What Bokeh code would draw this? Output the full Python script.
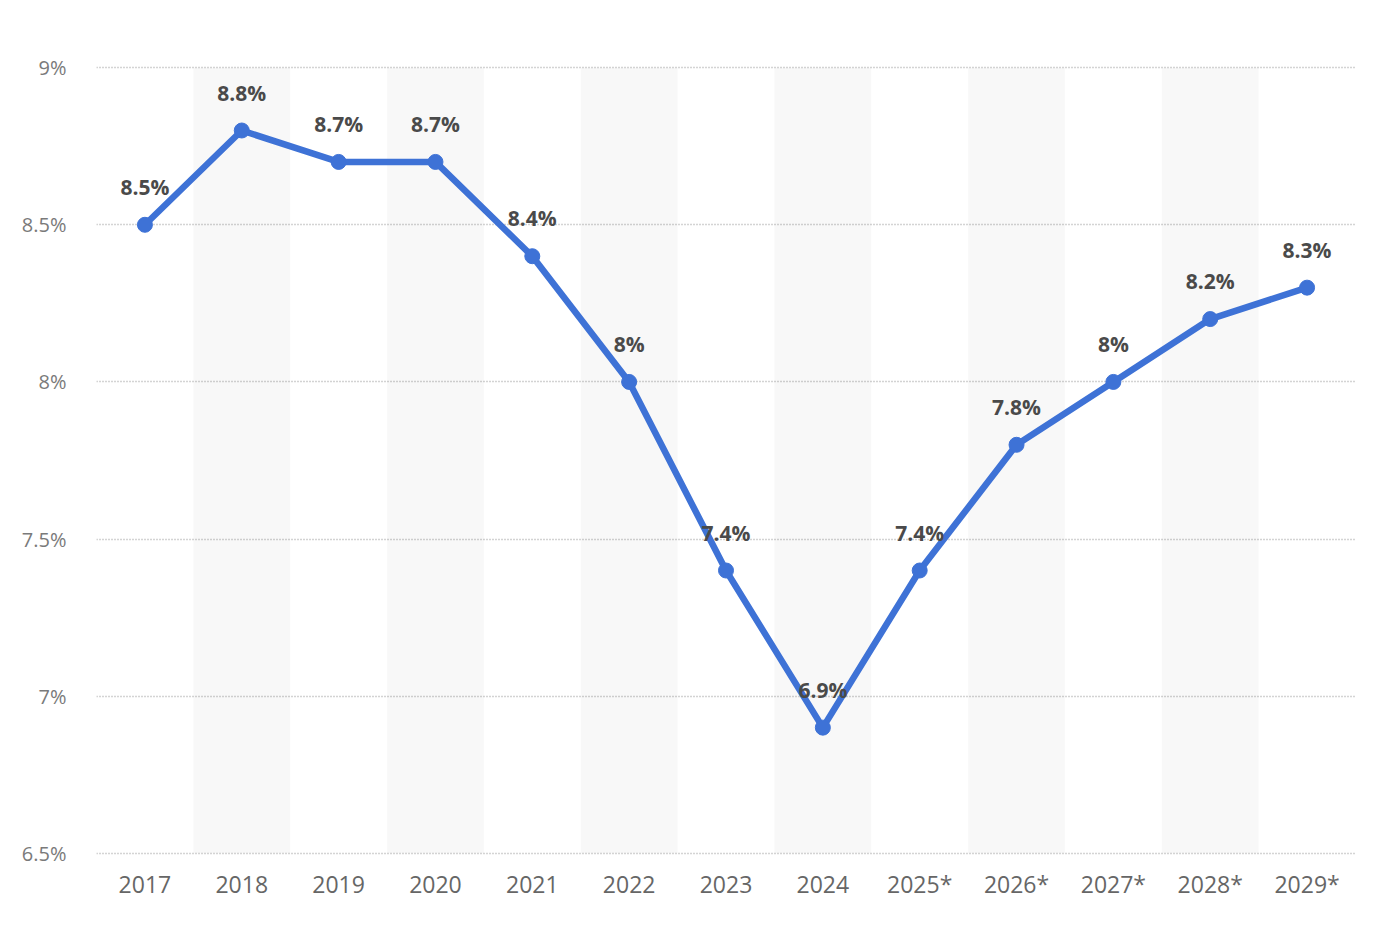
from bokeh.plotting import figure
from bokeh.models import ColumnDataSource, FixedTicker, CustomJSTickFormatter, Range1d, FactorRange
from bokeh.core.properties import value
from bokeh.embed import file_html
from bokeh.resources import INLINE

years = ["2017", "2018", "2019", "2020", "2021", "2022", "2023", "2024",
         "2025*", "2026*", "2027*", "2028*", "2029*"]
values = [8.5, 8.8, 8.7, 8.7, 8.4, 8.0, 7.4, 6.9, 7.4, 7.8, 8.0, 8.2, 8.3]
labels = ["8.5%", "8.8%", "8.7%", "8.7%", "8.4%", "8%", "7.4%", "6.9%",
          "7.4%", "7.8%", "8%", "8.2%", "8.3%"]
y_ticks = [6.5, 7.0, 7.5, 8.0, 8.5, 9.0]
y_min, y_max = 6.5, 9.0
pad = 0.01  # tiny padding so the edge gridlines are drawn

FONT = "Open Sans"
BLUE = "#3e72d6"

p = figure(width=1381, height=932, output_backend="svg", toolbar_location=None,
           x_range=FactorRange(*years), y_range=Range1d(y_min - pad, y_max + pad),
           min_border_left=96, min_border_right=26, min_border_top=64, min_border_bottom=76)
p.outline_line_color = None
p.background_fill_color = "white"
p.border_fill_color = "white"

# alternating band shading (translucent so the dotted grid shows through)
band_x = years[1::2]
p.vbar(x=band_x, width=1.0, bottom=y_min, top=y_max, fill_color="#000000",
       fill_alpha=0.026, line_color=None)

src = ColumnDataSource(dict(x=years, y=values, label=labels))
p.line("x", "y", source=src, line_color=BLUE, line_width=6.5, line_join="round")
p.scatter("x", "y", source=src, size=15, fill_color=BLUE, line_color=BLUE)
p.text("x", "y", text="label", source=src, text_font=value(FONT), text_font_size="21px",
       text_font_style="bold", text_color="#4a4a4a", text_align="center",
       text_baseline="middle", y_offset=-38)

# axes
p.xaxis.axis_line_color = None
p.xaxis.major_tick_line_color = None
p.xaxis.minor_tick_line_color = None
p.xaxis.major_label_text_font = FONT
p.xaxis.major_label_text_font_size = "23px"
p.xaxis.major_label_text_color = "#666666"
p.xaxis.major_label_standoff = 5

p.yaxis.axis_line_color = None
p.yaxis.major_tick_line_color = None
p.yaxis.minor_tick_line_color = None
p.yaxis.ticker = FixedTicker(ticks=y_ticks)
p.yaxis.formatter = CustomJSTickFormatter(code="return tick + '%';")
p.yaxis.major_label_text_font = FONT
p.yaxis.major_label_text_font_size = "20px"
p.yaxis.major_label_text_color = "#7a7a7a"
p.yaxis.major_label_standoff = 24

p.xgrid.grid_line_color = None
p.ygrid.grid_line_color = "#a8a8a8"
p.ygrid.grid_line_dash = "1 2"
p.ygrid.grid_line_width = 1.3

open("out.html", "w").write(file_html(p, INLINE))
